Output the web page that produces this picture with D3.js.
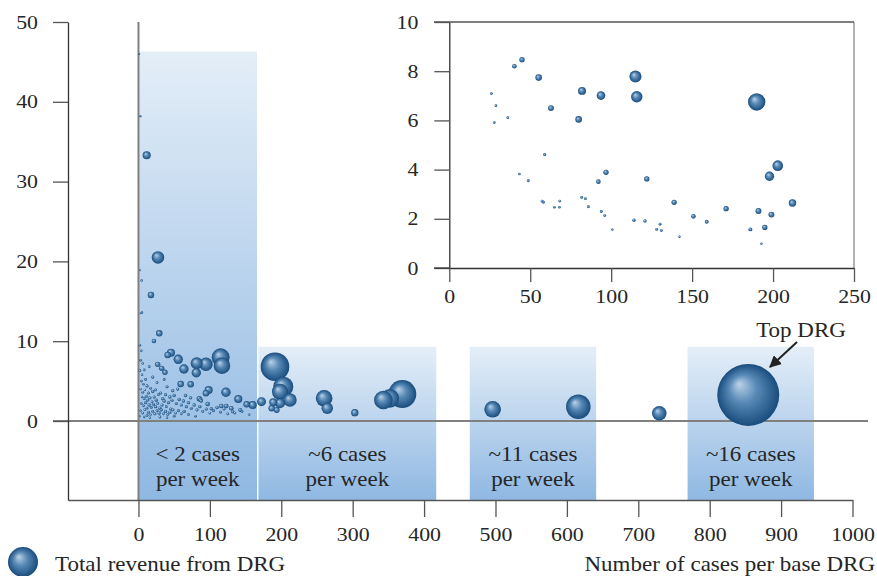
<!DOCTYPE html>
<html><head><meta charset="utf-8">
<script src="https://cdn.jsdelivr.net/npm/d3@7"></script>
<style>
html,body{margin:0;padding:0;background:#fff;}
text{font-family:"Liberation Serif","Times New Roman",serif;fill:#262626;}
</style></head>
<body><svg id="c" width="877" height="576"></svg>
<script>
// ---------- DATA ----------
const xTicks = [0,100,200,300,400,500,600,700,800,900,1000];
const yTicks = [0,10,20,30,40,50];
const insetXTicks = [0,50,100,150,200,250];
const insetYTicks = [0,2,4,6,8,10];

const groupLine1 = ["< 2 cases","~6 cases","~11 cases","~16 cases"];
const groupLine2 = ["per week","per week","per week","per week"];
const groupStart = [0,168,464,769];
const groupEnd   = [166,417,641,946];
const groupTop   = [46.3,9.3,9.3,9.3];

// main bubbles: [cases, revenue per case, total revenue]
const largeBubbles = [
 [854,3.26,100],[369.5,3.38,20.4],[352,2.84,9.0],[343,2.63,9.0],[303,1.04,1.4],
 [260,2.84,7.2],[264.4,1.59,3.4],[191.2,6.80,21.3],[202.8,4.30,10.4],[198.2,3.67,6.7],
 [212.2,2.63,4.7],[198.2,2.22,2.6],[188.8,2.34,1.7],[172.3,2.42,2.1],[159.9,2.0,1.7],
 [186.6,1.59,1.1],[193.6,1.38,0.9],[496,1.47,7.2],[616,1.79,15.7],[729.4,0.96,5.5],
 [115.1,7.98,8.4],[116.9,6.93,7.2],[94.5,7.11,4.7],[81.5,7.23,3.7],[63.7,6.52,2.3],
 [55.7,7.73,2.3],[45.5,8.56,1.7],[40.9,8.27,1.1],[29.1,10.99,1.1],[21.7,10.03,0.55],
 [81,6.05,2.3],[26.9,7.1,0.76],[32.5,6.6,0.76],[37.1,6.1,0.76],[59.1,4.64,1.1],
 [73.1,4.6,1.1],[98.3,3.88,1.7],[94.5,3.47,1.1],[122.5,3.6,2.3],[139.8,2.76,1.7],
 [85.2,2.79,0.76],[151.5,2.09,1.1],[96.9,2.13,0.55],[11.5,33.3,1.7],[27.3,20.5,4.1],
 [17.5,15.8,1.1],[87,2.63,0.55],[102,1.54,0.3],[116,1.88,0.55],[123,1.88,0.55],
 [130,1.59,0.55],[132,1.17,0.3],[142.6,1.38,0.4]
];
const smallBubbles = [
 [1.1,46.0,0.1],[2.5,38.2,0.15],[2.1,18.9,0.1],[4.5,17.6,0.15],[4.9,13.6,0.15],
 [3,13.5,0.1],[2,9.5,0.15],[4,8.8,0.15],[3,7.6,0.2],[6,7.2,0.15],[2,6.3,0.2],[5,5.8,0.15],
 [8,6.4,0.2],[4,5.0,0.2],[7,4.6,0.15],[10,5.2,0.2],[12,4.4,0.25],[3,4.0,0.15],[6,3.6,0.2],
 [9,3.9,0.15],[14,3.5,0.25],[17,4.1,0.2],[20,3.7,0.3],[5,3.0,0.15],[8,2.8,0.2],[11,3.1,0.25],
 [13,2.6,0.2],[16,2.9,0.3],[19,2.4,0.2],[22,3.0,0.25],[25,2.6,0.3],[28,3.3,0.2],[4,2.2,0.15],
 [7,1.9,0.2],[10,2.3,0.25],[12,1.6,0.2],[15,2.0,0.3],[18,1.7,0.2],[21,2.1,0.25],[24,1.8,0.3],
 [27,2.2,0.2],[30,1.6,0.3],[33,2.0,0.25],[36,2.5,0.3],[39,1.8,0.2],[42,2.3,0.3],[45,1.5,0.25],
 [3,1.3,0.15],[6,1.0,0.2],[9,1.4,0.2],[14,1.1,0.25],[17,0.8,0.15],[20,1.2,0.2],[23,0.9,0.25],
 [26,1.3,0.2],[29,1.0,0.3],[32,1.4,0.25],[35,0.9,0.2],[38,1.2,0.3],[41,0.8,0.2],[44,1.1,0.25],
 [48,1.4,0.3],[52,1.0,0.2],[56,1.3,0.25],[60,0.9,0.2],[64,1.2,0.3],[2,0.6,0.1],[8,0.5,0.15],
 [12,0.7,0.2],[16,0.4,0.15],[30,0.5,0.2],[40,0.4,0.15],[50,0.6,0.2],[24,3.9,0.2],[31,3.5,0.25],
 [26,4.8,0.2],[34,2.8,0.3],[38,3.3,0.25],[44,3.0,0.3],[47,2.6,0.25],[50,3.2,0.3],[53,2.2,0.25],
 [57,2.7,0.3],[60,2.0,0.25],[63,2.5,0.3],[67,1.8,0.25],[70,2.3,0.3],[74,1.6,0.25],[78,2.0,0.3],
 [82,1.4,0.25],[86,1.8,0.3],[90,1.2,0.2],[95,1.5,0.25],[100,1.0,0.2],[105,1.3,0.25],[110,1.7,0.3],
 [115,1.1,0.2],[120,1.5,0.25],[125,0.9,0.2],[135,1.0,0.2],[145,1.2,0.2],[155,0.8,0.15],
 [70,0.8,0.2],[80,0.6,0.15],[55,4.0,0.25],[36,5.2,0.2],[15,6.8,0.2],[20,5.5,0.25],[40,4.3,0.25],
 [48,3.8,0.25],[66,3.2,0.3],[73,2.9,0.3],[88,2.5,0.3]
];

// inset bubbles: [cases, revenue per case, total revenue]
const insetBubbles = [
 [26.0,7.09,0.5],[28.8,6.60,0.5],[27.8,5.91,0.5],[36.1,6.11,0.5],[40.2,8.20,1.5],
 [44.9,8.47,2.0],[55.2,7.74,3.1],[62.8,6.50,2.5],[79.9,6.04,3.1],[82.0,7.20,4.5],
 [93.7,7.01,5.3],[115.0,7.78,10.2],[115.8,6.96,9.2],[189.9,6.75,21.4],[58.9,4.61,0.7],
 [43.3,3.82,0.5],[48.8,3.55,0.6],[57.3,2.72,0.6],[58.1,2.67,0.6],[64.9,2.47,0.5],
 [68.2,2.72,0.5],[68.0,2.47,0.5],[81.8,2.87,0.6],[84.1,2.82,0.6],[85.9,2.49,0.6],
 [92.1,3.51,1.5],[96.8,3.89,2.0],[93.9,2.30,0.6],[96.0,2.13,0.6],[100.7,1.56,0.4],
 [114.1,1.94,0.8],[120.9,1.91,0.8],[122.0,3.62,2.0],[128.1,1.57,0.6],[130.2,1.78,0.6],
 [131.0,1.52,0.6],[138.9,2.67,2.0],[142.2,1.27,0.4],[150.8,2.10,1.5],[159.0,1.88,1.1],
 [171.0,2.41,2.0],[186.0,1.57,1.1],[191.0,2.32,2.5],[194.9,1.65,2.0],[192.8,0.99,0.4],
 [199.0,2.17,2.5],[197.8,3.73,6.2],[202.9,4.16,8.0],[212.0,2.64,3.9]
];

// ---------- CHART ----------
const SX = 1.15; // horizontal glyph stretch of the original typeface
const svg = d3.select("#c");
const defs = svg.append("defs");

const bg = defs.append("linearGradient").attr("id","bandGrad").attr("x1",0).attr("y1",0).attr("x2",0).attr("y2",1);
bg.append("stop").attr("offset","0%").attr("stop-color","#e4eef8");
bg.append("stop").attr("offset","100%").attr("stop-color","#8fb8e2");

const rg = defs.append("radialGradient").attr("id","ball")
  .attr("cx","50%").attr("cy","50%").attr("r","50%").attr("fx","35%").attr("fy","32%");
rg.append("stop").attr("offset","0%").attr("stop-color","#bcd3e8");
rg.append("stop").attr("offset","45%").attr("stop-color","#5889b6");
rg.append("stop").attr("offset","100%").attr("stop-color","#184c7c");

function label(parent, tx, ty, str, anchor, size){
  return parent.append("text").attr("transform",`translate(${tx},${ty}) scale(${SX},1)`)
    .attr("text-anchor",anchor).attr("font-size",size).text(str);
}

const x = d3.scaleLinear().domain([-98.7,1000]).range([68,852.5]);
const y = d3.scaleLinear().domain([-9.9,50]).range([500,22]);
const r = d3.scaleSqrt().domain([0,100]).range([0,31]);

// bands
svg.append("g").selectAll("rect").data(groupStart).join("rect")
  .attr("x",(d)=>x(d))
  .attr("width",(d,i)=>x(groupEnd[i])-x(d))
  .attr("y",(d,i)=>y(groupTop[i]))
  .attr("height",(d,i)=>y(-9.9)-y(groupTop[i]))
  .attr("fill","url(#bandGrad)");

// zero lines
svg.append("line").attr("x1",53).attr("x2",868).attr("y1",y(0)).attr("y2",y(0))
  .attr("stroke","#808080").attr("stroke-width",2);
svg.append("line").attr("x1",x(0)).attr("x2",x(0)).attr("y1",y(50)).attr("y2",y(-9.9))
  .attr("stroke","#808080").attr("stroke-width",2);

// group labels
const gl = svg.append("g");
groupLine1.forEach((t,i)=>{
  const cx = (x(groupStart[i])+x(groupEnd[i]))/2;
  label(gl, cx, 461, t, "middle", 20);
  label(gl, cx, 486, groupLine2[i], "middle", 20);
});

// bubbles
const allMain = largeBubbles.concat(smallBubbles).sort((a,b)=>b[2]-a[2]);
svg.append("g").selectAll("circle").data(allMain).join("circle")
  .attr("cx",d=>x(d[0])).attr("cy",d=>y(d[1])).attr("r",d=>r(d[2]))
  .attr("fill","url(#ball)");

// axes
function styleAxis(a, left, offset){
  a.select(".domain").attr("stroke","#333").attr("stroke-width",1.3);
  a.selectAll(".tick line").attr("stroke","#555").attr("stroke-width",1.3);
  const t = a.selectAll("text").attr("font-size",19).attr("font-family","Liberation Serif").attr("fill","#262626")
    .attr("transform",`scale(${SX},1)`);
  if(left) t.attr("x",-offset/SX);
}
const xAxis = svg.append("g").attr("transform","translate(0,500)")
  .call(d3.axisBottom(x).tickValues(xTicks).tickFormat(d3.format("d")).tickSize(17).tickSizeOuter(0).tickPadding(11));
const yAxis = svg.append("g").attr("transform","translate(68,0)")
  .call(d3.axisLeft(y).tickValues(yTicks).tickFormat(d3.format("d")).tickSize(15).tickSizeOuter(0));
styleAxis(xAxis,false);
styleAxis(yAxis,true,30);
xAxis.select(".domain").attr("stroke","#555");

// Top DRG annotation
defs.append("marker").attr("id","arr").attr("viewBox","0 0 10 10").attr("refX",9).attr("refY",5)
  .attr("markerWidth",6).attr("markerHeight",6).attr("orient","auto")
  .append("path").attr("d","M0,0L10,5L0,10z").attr("fill","#222");
svg.append("line").attr("x1",797).attr("y1",342).attr("x2",770).attr("y2",367)
  .attr("stroke","#222").attr("stroke-width",2).attr("marker-end","url(#arr)");
label(svg, 801, 337, "Top DRG", "middle", 20);

// ---------- INSET ----------
const ix = d3.scaleLinear().domain([0,250]).range([449.3,854]);
const iy = d3.scaleLinear().domain([0,10]).range([268,22]);
const ir = d3.scaleSqrt().domain([0,100]).range([0,18.8]);
const inset = svg.append("g");
inset.append("rect").attr("x",ix(0)).attr("y",iy(10)).attr("width",ix(250)-ix(0)).attr("height",iy(0)-iy(10))
  .attr("fill","#fff");
inset.append("line").attr("x1",ix(250)).attr("x2",ix(250)).attr("y1",iy(10)).attr("y2",iy(0))
  .attr("stroke","#8a8a8a").attr("stroke-width",1.3);
inset.append("line").attr("x1",434).attr("x2",ix(250)).attr("y1",iy(10)).attr("y2",iy(10))
  .attr("stroke","#555").attr("stroke-width",1.3);
inset.append("g").selectAll("circle").data(insetBubbles.slice().sort((a,b)=>b[2]-a[2])).join("circle")
  .attr("cx",d=>ix(d[0])).attr("cy",d=>iy(d[1])).attr("r",d=>ir(d[2]))
  .attr("fill","url(#ball)");
const ixa = inset.append("g").attr("transform",`translate(0,${iy(0)})`)
  .call(d3.axisBottom(ix).tickValues(insetXTicks).tickSize(14).tickSizeOuter(0).tickPadding(8));
const iya = inset.append("g").attr("transform",`translate(${ix(0)},0)`)
  .call(d3.axisLeft(iy).tickValues(insetYTicks).tickSize(15).tickSizeOuter(0));
styleAxis(ixa,false);
styleAxis(iya,true,31);
inset.append("line").attr("x1",434).attr("x2",ix(0)).attr("y1",iy(0)).attr("y2",iy(0))
  .attr("stroke","#333").attr("stroke-width",1.3);

// ---------- LEGEND ----------
svg.append("circle").attr("cx",23).attr("cy",562).attr("r",15).attr("fill","url(#ball)");
label(svg, 55, 571, "Total revenue from DRG", "start", 20);
label(svg, 875, 571, "Number of cases per base DRG", "end", 20);
</script></body></html>
